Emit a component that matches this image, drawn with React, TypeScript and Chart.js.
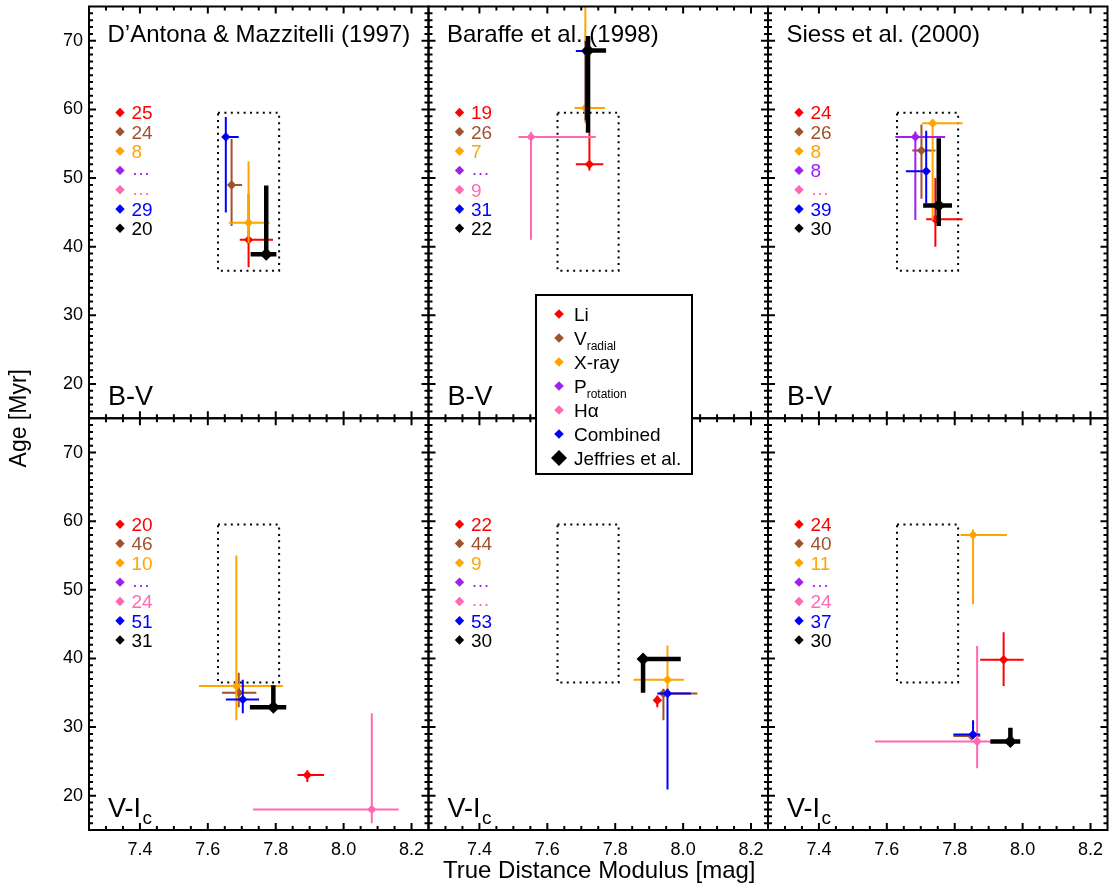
import { useEffect, useRef } from 'react';
import { Chart, registerables } from 'chart.js';

Chart.register(...registerables);

const FONT = '"Liberation Sans", Arial, Helvetica, sans-serif';

// Age-dating methods, in legend order
const methodNames = ['Li', 'V', 'X-ray', 'P', 'Hα', 'Combined', 'Jeffries et al.'];
const methodSubscripts = ['', 'radial', '', 'rotation', '', '', ''];
const methodColors = ['#ff0000', '#a0522d', '#ffa500', '#a020f0', '#ff69b4', '#0000ff', '#000000'];

const modelTitles = ['D’Antona & Mazzitelli (1997)', 'Baraffe et al. (1998)', 'Siess et al. (2000)'];
const colourNames = ['B-V', 'V-I'];
const colourSubscripts = ['', 'c'];

const dmRange = [7.25, 8.25];
const ageRange = [15, 75];
const dmTicks = [7.4, 7.6, 7.8, 8.0, 8.2];
const ageTicks = [20, 30, 40, 50, 60, 70];

// Jeffries et al. distance-modulus / age region
const jeffriesDm = [7.63, 7.81];
const jeffriesAge = [36.5, 59.5];

// Number of stars per method (null = no estimate)
const countsDamBV = [25, 24, 8, null, null, 29, 20];
const countsBaraffeBV = [19, 26, 7, null, 9, 31, 22];
const countsSiessBV = [24, 26, 8, 8, null, 39, 30];
const countsDamVI = [20, 46, 10, null, 24, 51, 31];
const countsBaraffeVI = [22, 44, 9, null, null, 53, 30];
const countsSiessVI = [24, 40, 11, null, 24, 37, 30];

// [distance modulus, dm low, dm high, age, age low, age high] per method
const damBV = [
  [7.720, 7.694, 7.792, 41.0, 37.0, 47.7],
  [7.670, 7.662, 7.701, 49.0, 43.0, 55.7],
  [7.720, 7.662, 7.782, 43.5, 40.5, 52.4],
  null,
  null,
  [7.653, 7.645, 7.691, 56.0, 45.0, 58.9],
  [7.772, 7.726, 7.802, 38.9, 38.5, 48.9],
];
const baraffeBV = [
  [7.724, 7.684, 7.765, 52.0, 51.1, 56.6],
  null,
  [7.712, 7.680, 7.770, 60.2, 58.0, 78.0],
  null,
  [7.552, 7.515, 7.743, 56.0, 41.0, 56.7],
  [7.713, 7.684, 7.740, 68.5, 58.4, 70.0],
  [7.720, 7.715, 7.773, 68.6, 56.6, 70.7],
];
const siessBV = [
  [7.743, 7.716, 7.823, 44.0, 40.0, 50.0],
  [7.702, 7.675, 7.743, 54.0, 47.0, 57.8],
  [7.735, 7.704, 7.823, 58.0, 43.9, 58.3],
  [7.684, 7.625, 7.772, 56.0, 43.9, 56.8],
  null,
  [7.716, 7.656, 7.716, 51.0, 46.3, 56.9],
  [7.753, 7.707, 7.792, 46.0, 43.0, 55.8],
];
const damVI = [
  [7.893, 7.864, 7.942, 23.0, 22.0, 23.7],
  [7.691, 7.642, 7.743, 35.0, 32.9, 37.9],
  [7.684, 7.574, 7.821, 36.0, 31.0, 55.0],
  null,
  [8.083, 7.733, 8.162, 18.0, 16.0, 32.0],
  [7.703, 7.653, 7.751, 34.0, 32.0, 36.9],
  [7.793, 7.724, 7.831, 32.9, 32.9, 36.1],
];
const baraffeVI = [
  [7.924, 7.915, 7.936, 33.9, 32.9, 34.6],
  [7.942, 7.930, 8.042, 34.9, 31.0, 35.6],
  [7.954, 7.854, 8.003, 36.9, 35.0, 41.9],
  null,
  null,
  [7.954, 7.924, 8.023, 34.9, 20.9, 35.6],
  [7.882, 7.882, 7.993, 39.9, 35.0, 39.9],
];
const siessVI = [
  [7.944, 7.875, 8.003, 39.8, 36.0, 43.8],
  [7.850, 7.796, 7.875, 28.7, 28.7, 29.0],
  [7.854, 7.817, 7.954, 58.0, 47.9, 58.8],
  null,
  [7.866, 7.565, 7.920, 27.9, 24.0, 41.8],
  [7.854, 7.796, 7.875, 28.9, 28.5, 31.0],
  [7.964, 7.905, 7.993, 27.9, 27.9, 29.9],
];

type Estimate = number[] | null;
interface Panel { col: number; row: number; data: Estimate[]; counts: (number | null)[] }

const PANELS: Panel[] = [
  { col: 0, row: 0, data: damBV, counts: countsDamBV },
  { col: 1, row: 0, data: baraffeBV, counts: countsBaraffeBV },
  { col: 2, row: 0, data: siessBV, counts: countsSiessBV },
  { col: 0, row: 1, data: damVI, counts: countsDamVI },
  { col: 1, row: 1, data: baraffeVI, counts: countsBaraffeVI },
  { col: 2, row: 1, data: siessVI, counts: countsSiessVI },
];

const rowAxisId = (row: number) => (row === 0 ? 'yTop' : 'yBottom');

function buildDatasets() {
  const out: any[] = [];
  PANELS.forEach((p, pi) => {
    p.data.forEach((e, m) => {
      if (!e) return;
      out.push({
        label: `${methodNames[m]} ${pi}`,
        data: [{ x: e[0], y: e[3] }],
        err: { xLo: e[1], xHi: e[2], yLo: e[4], yHi: e[5] },
        errWidth: m === 6 ? 4.5 : 2,
        xAxisID: 'x' + p.col,
        yAxisID: rowAxisId(p.row),
        pointStyle: 'rectRot',
        pointRadius: m === 6 ? 6.5 : 4.7,
        backgroundColor: methodColors[m],
        borderColor: methodColors[m],
        borderWidth: 0,
        order: 6 - m,
      });
    });
  });
  return out;
}

function panelGeom(chart: any, p: Panel) {
  const xs = chart.scales['x' + p.col];
  const ys = chart.scales[rowAxisId(p.row)];
  return {
    xs,
    ys,
    left: xs.getPixelForValue(dmRange[0]),
    right: xs.getPixelForValue(dmRange[1]),
    top: ys.getPixelForValue(ageRange[1]),
    bottom: ys.getPixelForValue(ageRange[0]),
  };
}

function diamond(ctx: CanvasRenderingContext2D, x: number, y: number, r: number, color: string) {
  ctx.beginPath();
  ctx.moveTo(x - r, y);
  ctx.lineTo(x, y - r);
  ctx.lineTo(x + r, y);
  ctx.lineTo(x, y + r);
  ctx.closePath();
  ctx.fillStyle = color;
  ctx.fill();
}

const panelsPlugin = {
  id: 'panels',
  beforeDatasetsDraw(chart: any) {
    const ctx: CanvasRenderingContext2D = chart.ctx;
    PANELS.forEach((p) => {
      const g = panelGeom(chart, p);
      // dotted Jeffries region
      ctx.save();
      ctx.strokeStyle = '#000';
      ctx.lineWidth = 2;
      ctx.setLineDash([2, 4.4]);
      const bx0 = g.xs.getPixelForValue(jeffriesDm[0]);
      const bx1 = g.xs.getPixelForValue(jeffriesDm[1]);
      const by0 = g.ys.getPixelForValue(jeffriesAge[1]);
      const by1 = g.ys.getPixelForValue(jeffriesAge[0]);
      ctx.strokeRect(bx0, by0, bx1 - bx0, by1 - by0);
      ctx.restore();

      ctx.save();
      ctx.fillStyle = '#000';
      ctx.textBaseline = 'alphabetic';
      ctx.textAlign = 'left';
      if (p.row === 0) {
        ctx.font = `24px ${FONT}`;
        ctx.fillText(modelTitles[p.col], g.left + 18.5, g.top + 35.5);
      }
      // colour index label
      ctx.font = `27px ${FONT}`;
      const main = colourNames[p.row];
      const baseY = g.bottom - 13.5;
      ctx.fillText(main, g.left + 19, baseY);
      if (colourSubscripts[p.row]) {
        const w = ctx.measureText(main).width;
        ctx.font = `19px ${FONT}`;
        ctx.fillText(colourSubscripts[p.row], g.left + 19 + w + 1.5, baseY + 7);
      }
      // star counts
      p.counts.forEach((n, m) => {
        const cy = g.top + 106 + m * 19.3;
        diamond(ctx, g.left + 31, cy, 4.7, methodColors[m]);
        ctx.fillStyle = methodColors[m];
        ctx.font = `19px ${FONT}`;
        if (n === null) ctx.fillText('…', g.left + 42.5, cy + 5);
        else ctx.fillText(String(n), g.left + 42.5, cy + 6.8);
      });
      ctx.restore();
    });
  },
  beforeDatasetDraw(chart: any, args: any) {
    const ds = chart.data.datasets[args.index];
    const xs = chart.scales[ds.xAxisID];
    const ys = chart.scales[ds.yAxisID];
    const ctx: CanvasRenderingContext2D = chart.ctx;
    const pt = ds.data[0];
    const px = xs.getPixelForValue(pt.x);
    const py = ys.getPixelForValue(pt.y);
    ctx.save();
    ctx.beginPath();
    ctx.rect(xs.left, ys.top, xs.width, ys.height);
    ctx.clip();
    ctx.strokeStyle = ds.borderColor;
    ctx.lineWidth = ds.errWidth;
    ctx.lineCap = 'butt';
    ctx.beginPath();
    ctx.moveTo(xs.getPixelForValue(ds.err.xLo), py);
    ctx.lineTo(xs.getPixelForValue(ds.err.xHi), py);
    ctx.moveTo(px, ys.getPixelForValue(ds.err.yLo));
    ctx.lineTo(px, ys.getPixelForValue(ds.err.yHi));
    ctx.stroke();
    ctx.restore();
  },
  afterDatasetsDraw(chart: any) {
    const ctx: CanvasRenderingContext2D = chart.ctx;
    ctx.save();
    ctx.strokeStyle = '#000';
    ctx.lineWidth = 2;
    PANELS.forEach((p) => {
      const g = panelGeom(chart, p);
      ctx.strokeRect(g.left, g.top, g.right - g.left, g.bottom - g.top);
      ctx.beginPath();
      for (let i = 1; i < 20; i++) {
        const v = dmRange[0] + i * 0.05;
        const major = dmTicks.some((t) => Math.abs(t - v) < 1e-6);
        const len = major ? 7 : 4;
        const x = g.xs.getPixelForValue(v);
        ctx.moveTo(x, g.bottom);
        ctx.lineTo(x, g.bottom - len);
        ctx.moveTo(x, g.top);
        ctx.lineTo(x, g.top + len);
      }
      for (let a = ageRange[0] + 1; a < ageRange[1]; a++) {
        const len = a % 10 === 0 ? 7 : 4;
        const y = g.ys.getPixelForValue(a);
        ctx.moveTo(g.left, y);
        ctx.lineTo(g.left + len, y);
        ctx.moveTo(g.right, y);
        ctx.lineTo(g.right - len, y);
      }
      ctx.stroke();
    });
    ctx.restore();

    // legend
    const L = { left: 536, top: 295, width: 156, height: 179 };
    ctx.save();
    ctx.fillStyle = '#fff';
    ctx.fillRect(L.left, L.top, L.width, L.height);
    ctx.strokeStyle = '#000';
    ctx.lineWidth = 2;
    ctx.strokeRect(L.left, L.top, L.width, L.height);
    ctx.textAlign = 'left';
    ctx.textBaseline = 'alphabetic';
    methodNames.forEach((name, m) => {
      const cy = L.top + 19 + m * 24;
      diamond(ctx, L.left + 23, cy, m === 6 ? 8 : 4.8, methodColors[m]);
      ctx.fillStyle = '#000';
      ctx.font = `19px ${FONT}`;
      ctx.fillText(name, L.left + 38, cy + 6.8);
      if (methodSubscripts[m]) {
        const w = ctx.measureText(name).width;
        ctx.font = `12px ${FONT}`;
        ctx.fillText(methodSubscripts[m], L.left + 38 + w, cy + 11.5);
      }
    });
    ctx.restore();
  },
  afterDraw(chart: any) {
    const ctx: CanvasRenderingContext2D = chart.ctx;
    const x1 = chart.scales.x1;
    const area = chart.chartArea;
    ctx.save();
    ctx.fillStyle = '#000';
    ctx.font = `24px ${FONT}`;
    ctx.textAlign = 'center';
    ctx.textBaseline = 'alphabetic';
    ctx.fillText('True Distance Modulus [mag]', (x1.left + x1.right) / 2 + 1, 878);
    ctx.font = `23px ${FONT}`;
    ctx.translate(20, (area.top + area.bottom) / 2);
    ctx.rotate(-Math.PI / 2);
    ctx.textBaseline = 'middle';
    ctx.fillText('Age [Myr]', 0, 0);
    ctx.restore();
  },
};

// Fixed axis sizes and no label overhang, so the panel grid fills the chart area exactly
function fixAxis(s: any, size: number) {
  if (s.isHorizontal()) s.height = size;
  else s.width = size;
  s.paddingTop = 0;
  s.paddingBottom = 0;
  s.paddingLeft = 0;
  s.paddingRight = 0;
}

function xAxis(col: number) {
  return {
    type: 'linear',
    axis: 'x',
    position: 'bottom',
    stack: 'columns',
    stackWeight: 1,
    weight: col,
    min: dmRange[0],
    max: dmRange[1],
    afterBuildTicks: (s: any) => {
      s.ticks = dmTicks.map((value) => ({ value }));
    },
    afterFit: (s: any) => fixAxis(s, 58),
    grid: { display: false, drawTicks: false },
    border: { display: false },
    ticks: {
      color: '#000',
      font: { family: FONT, size: 18 },
      padding: 9,
      maxRotation: 0,
      minRotation: 0,
      autoSkip: false,
      callback: (v: any) => Number(v).toFixed(1),
    },
  };
}

function yAxis(weight: number) {
  return {
    type: 'linear',
    axis: 'y',
    position: 'left',
    stack: 'rows',
    stackWeight: 1,
    weight,
    min: ageRange[0],
    max: ageRange[1],
    afterBuildTicks: (s: any) => {
      s.ticks = ageTicks.map((value) => ({ value }));
    },
    afterFit: (s: any) => fixAxis(s, 89),
    grid: { display: false, drawTicks: false },
    border: { display: false },
    ticks: {
      color: '#000',
      font: { family: FONT, size: 18 },
      padding: 6,
      autoSkip: false,
      callback: (v: any) => String(v),
    },
  };
}

export default function App() {
  const ref = useRef<HTMLCanvasElement>(null);
  useEffect(() => {
    const chart = new Chart(ref.current as HTMLCanvasElement, {
      type: 'scatter',
      data: { datasets: buildDatasets() },
      options: {
        animation: false,
        responsive: false,
        devicePixelRatio: 1,
        events: [],
        layout: { padding: { top: 4, right: 6, left: 0, bottom: 0 } },
        plugins: { legend: { display: false }, tooltip: { enabled: false } },
        scales: {
          x0: xAxis(0),
          x1: xAxis(1),
          x2: xAxis(2),
          yTop: yAxis(1),
          yBottom: yAxis(0),
        } as any,
      },
      plugins: [panelsPlugin as any],
    });
    return () => chart.destroy();
  }, []);
  return (
    <div style={{ position: 'absolute', left: 0, top: 0, width: 1114, height: 888, background: '#fff' }}>
      <canvas ref={ref} width={1114} height={888} style={{ display: 'block', width: 1114, height: 888 }} />
    </div>
  );
}
